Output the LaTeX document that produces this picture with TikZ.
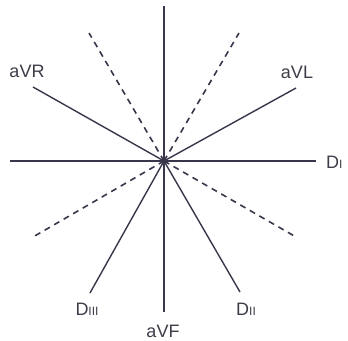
\documentclass[tikz,border=0pt]{standalone}
\usepackage{fontspec}
\setmainfont{Liberation Sans}
\definecolor{axis}{HTML}{38364A}
\definecolor{lbl}{HTML}{3E3C48}
\newcommand{\sm}[1]{{\fontsize{12}{12}\selectfont #1}}
\begin{document}
\begin{tikzpicture}[x=1pt,y=-1pt,
  axisline/.style={draw=axis,line width=1.4pt},
  dashline/.style={draw=axis,line width=1.6pt,dash pattern=on 6pt off 5pt},
  lab/.style={text=lbl,font=\fontsize{18}{18}\selectfont,inner sep=0pt}]
\useasboundingbox (0,0) rectangle (348,340);
\coordinate (O) at (164,161);
\coordinate (top) at (164,6);
\coordinate (left) at (10,161);
\coordinate (ul) at (89,33);
\coordinate (ur) at (239,33);
\coordinate (ll) at (33,237);
\coordinate (lr) at (296,237);
\coordinate (eVR) at (33,87);
\coordinate (eVL) at (296,88);
\coordinate (eI) at (316,161);
\coordinate (eII) at (240,292);
\coordinate (eIII) at (90,293);
\coordinate (eVF) at (164,312);
\node[lab] (aVR) at (27,71) {aVR};
\node[lab] (aVL) at (297,72) {aVL};
\node[lab,anchor=west] (DI) at (326,162) {D\sm{I}};
\node[lab] (DII) at (246,309) {D\sm{II}};
\node[lab] (DIII) at (87,309) {D\sm{III}};
\node[lab] (aVF) at (163,331) {aVF};
\foreach \p in {ul,ur,ll,lr} \draw[dashline] (O) -- (\p);
\foreach \p in {top,left,eVR,eVL,eI,eII,eIII,eVF} \draw[axisline] (O) -- (\p);
\fill[axis] (O) circle (2.5pt);
\end{tikzpicture}
\end{document}
